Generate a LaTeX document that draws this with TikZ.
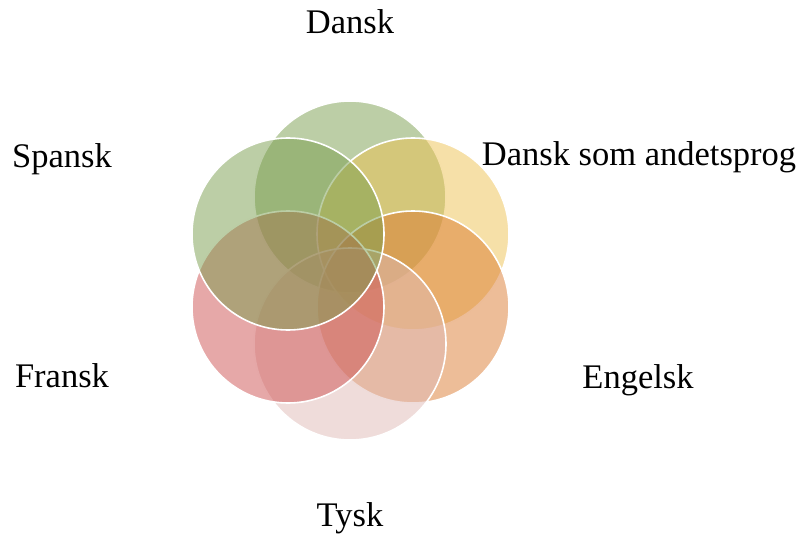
\documentclass[tikz,border=0pt]{standalone}
\usepackage{fontspec}
\setmainfont{Liberation Serif}
\definecolor{cDansk}{RGB}{121,157,77}
\definecolor{cDsa}{RGB}{237,193,81}
\definecolor{cEng}{RGB}{219,123,49}
\definecolor{cTysk}{RGB}{223,185,181}
\definecolor{cFransk}{RGB}{205,81,81}
\definecolor{cSpansk}{RGB}{121,157,77}
\tikzset{
  petal/.style={circle, minimum size=192pt, inner sep=0pt, draw=white,
    line width=1.6pt, fill=#1, fill opacity=0.5, draw opacity=1},
  label/.style={anchor=base, font=\fontsize{34.5}{40}\selectfont, text=black}
}
\begin{document}
\begin{tikzpicture}[x=1pt,y=-1pt]
  \useasboundingbox (0,0) rectangle (799,537);
  % six overlapping circles around a common centre, later ones on top
  \node[petal=cDansk]   (dansk)  at (350,197) {};
  \node[petal=cDsa]     (dsa)    at (413,234) {};
  \node[petal=cEng]     (eng)    at (413,307) {};
  \node[petal=cTysk]    (tysk)   at (350,344) {};
  \node[petal=cFransk]  (fransk) at (288,307) {};
  \node[petal=cSpansk]  (spansk) at (288,234) {};
  % subject names
  \node[label] (tDansk)  at (350,34)  {Dansk};
  \node[label] (tDsa)    at (639,166) {Dansk som andetsprog};
  \node[label] (tEng)    at (638,388) {Engelsk};
  \node[label] (tTysk)   at (350,526) {Tysk};
  \node[label] (tFransk) at (62,387)  {Fransk};
  \node[label] (tSpansk) at (62,168)  {Spansk};
\end{tikzpicture}
\end{document}
